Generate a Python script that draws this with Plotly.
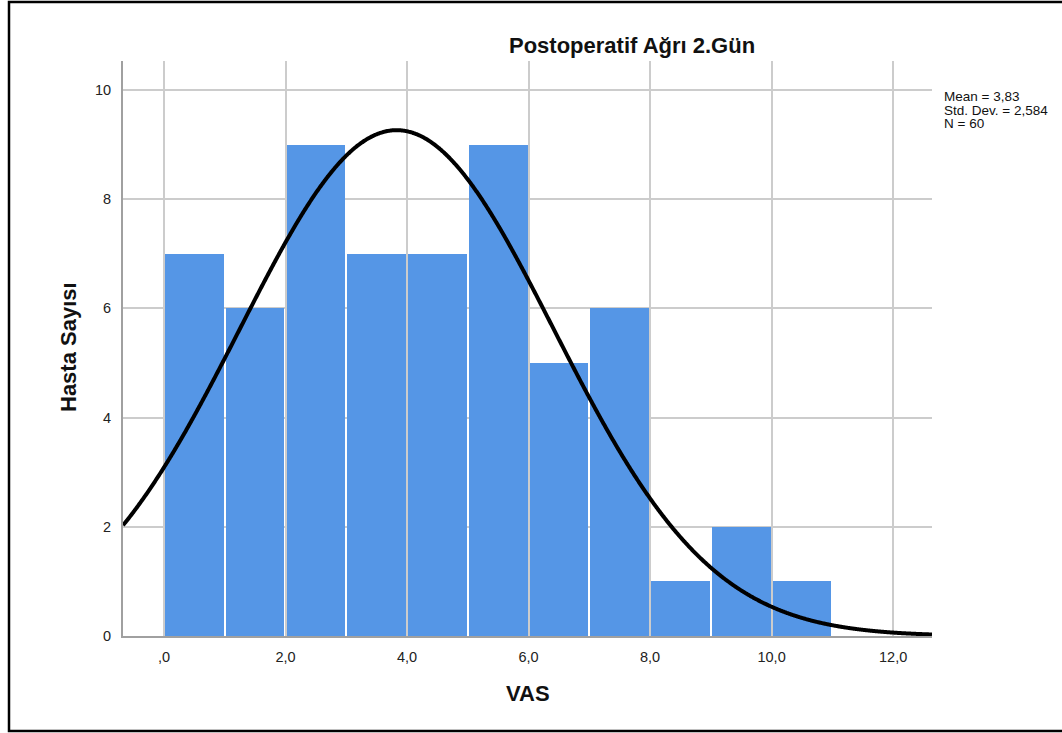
import numpy as np
import plotly.graph_objects as go

# Data
bin_left = [0, 1, 2, 3, 4, 5, 6, 7, 8, 9, 10]
counts = [7, 6, 9, 7, 7, 9, 5, 6, 1, 2, 1]
mean_val = 3.83
sd_val = 2.584
n_val = 60
bin_width = 1.0
x_ticks = [0, 2, 4, 6, 8, 10, 12]
x_tick_labels = [",0", "2,0", "4,0", "6,0", "8,0", "10,0", "12,0"]
y_ticks = [0, 2, 4, 6, 8, 10]
stats_lines = ["Mean = 3,83", "Std. Dev. = 2,584", "N = 60"]

W, H = 1062, 733
L, R, T, B = 123, 130, 61, 97
pw, ph = W - L - R, H - T - B

x_range = [-0.675, 12.64]
y_range = [0, 10.53]

def px_to_paper_x(px):
    return (px - L) / pw

def py_to_paper_y(py):
    return (H - B - py) / ph

fig = go.Figure()

fig.add_trace(go.Bar(
    x=[b + bin_width / 2 for b in bin_left],
    y=counts,
    width=0.965,
    marker=dict(color="#5596E6", line=dict(width=0)),
    hoverinfo="skip",
    showlegend=False,
))

# Normal curve from the stated mean / SD / N
xc = np.linspace(x_range[0], x_range[1], 800)
yc = n_val * bin_width / (sd_val * np.sqrt(2 * np.pi)) * np.exp(-0.5 * ((xc - mean_val) / sd_val) ** 2)
fig.add_trace(go.Scatter(
    x=xc, y=yc, mode="lines",
    line=dict(color="black", width=4, shape="spline"),
    hoverinfo="skip", showlegend=False, cliponaxis=False,
))

font_family = "Liberation Sans, Arial, sans-serif"

annotations = [
    dict(text="<b>Postoperatif Ağrı 2.Gün</b>", xref="paper", yref="paper",
         x=px_to_paper_x(632), y=py_to_paper_y(46), xanchor="center", yanchor="middle",
         showarrow=False, font=dict(size=22, color="#111", family=font_family)),
    dict(text="<b>Hasta Sayısı</b>", xref="paper", yref="paper",
         x=px_to_paper_x(68), y=py_to_paper_y(347), xanchor="center", yanchor="middle",
         textangle=-90, showarrow=False, font=dict(size=22, color="#111", family=font_family)),
    dict(text="<b>VAS</b>", xref="paper", yref="paper",
         x=px_to_paper_x(528), y=py_to_paper_y(693), xanchor="center", yanchor="middle",
         showarrow=False, font=dict(size=22, color="#111", family=font_family)),
]
for i, line in enumerate(stats_lines):
    annotations.append(dict(
        text=line, xref="paper", yref="paper",
        x=px_to_paper_x(942), y=py_to_paper_y(97 + 13.5 * i),
        xanchor="left", yanchor="middle", align="left", showarrow=False,
        font=dict(size=13.5, color="#111", family=font_family)))

fig.update_layout(
    width=W, height=H,
    margin=dict(l=L, r=R, t=T, b=B),
    paper_bgcolor="white",
    plot_bgcolor="white",
    bargap=0,
    font=dict(family=font_family, color="#222", size=14.5),
    xaxis=dict(
        range=x_range, tickvals=x_ticks, ticktext=x_tick_labels,
        showgrid=True, gridcolor="#cccccc", gridwidth=1.5,
        showline=True, linecolor="#a0a0a0", linewidth=2,
        ticks="", zeroline=False, tickfont=dict(size=14.5, color="#222"),
        ticklabelstandoff=7,
    ),
    yaxis=dict(
        range=y_range, tickvals=y_ticks,
        showgrid=True, gridcolor="#cccccc", gridwidth=1.5,
        showline=True, linecolor="#a0a0a0", linewidth=2,
        ticks="", zeroline=False, tickfont=dict(size=14.5, color="#222"),
        ticklabelstandoff=7,
    ),
    shapes=[dict(
        type="rect", xref="paper", yref="paper",
        x0=px_to_paper_x(9), x1=px_to_paper_x(1075),
        y0=py_to_paper_y(731), y1=py_to_paper_y(2),
        line=dict(color="black", width=2.5), fillcolor="rgba(0,0,0,0)",
        layer="above",
    )],
    annotations=annotations,
)

fig.write_html("out.html",
               config={"displayModeBar": False},
               post_script="document.body.style.margin='0';document.body.style.padding='0';")
